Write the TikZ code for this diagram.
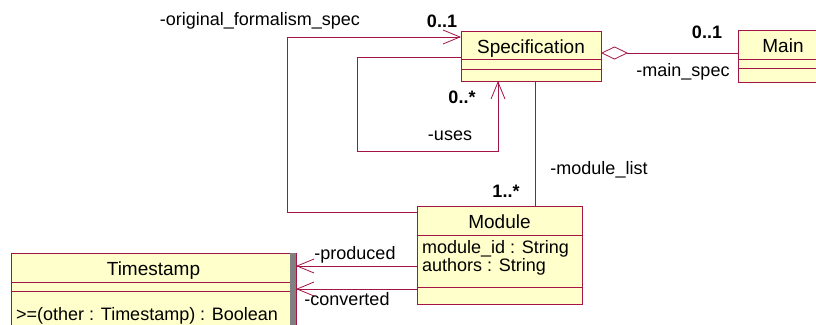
\documentclass[tikz,border=0pt]{standalone}
\usepackage{fontspec}
\setmainfont{Liberation Sans}
\usetikzlibrary{arrows.meta,positioning,calc}
\definecolor{umlred}{RGB}{165,20,70}
\definecolor{umlfill}{RGB}{255,255,204}
\tikzstyle{cname} = [draw=umlred, fill=umlfill, line width=0.8pt, inner sep=0pt, outer sep=0pt, text centered, text height=16.6pt, text depth=0pt, font=\fontsize{19}{19}\selectfont]
\tikzstyle{ccomp} = [draw=umlred, fill=umlfill, line width=0.8pt, inner sep=0pt, outer sep=0pt]
\tikzstyle{nav} = [-{Straight Barb[length=17pt,width=14pt]}, draw=umlred, line width=0.8pt]
\tikzstyle{link} = [draw=umlred, line width=0.8pt]
\tikzstyle{aggr} = [{Diamond[open,length=27pt,width=13pt]}-, draw=umlred, line width=0.8pt]
\tikzstyle{mult} = [font=\fontsize{18}{18}\selectfont\bfseries]
\tikzstyle{role} = [font=\fontsize{18}{18}\selectfont]

\begin{document}
\begin{tikzpicture}[x=1pt, y=-1pt, inner sep=0pt, font=\fontsize{18}{18}\selectfont]
    \clip (0,0) rectangle (816,324);

    % specification
    \node[cname, minimum width=140pt, minimum height=28pt] (spec) at (531,45) {Specification};
      \node[ccomp, minimum width=140pt, minimum height=10pt, below=0pt of spec] (specattr) {};
      \node[ccomp, minimum width=140pt, minimum height=12pt, below=0pt of specattr] (specops) {};

    % main
    \node[cname, minimum width=90pt, minimum height=29pt] (main) at (783,44.5) {Main};
      \node[ccomp, minimum width=90pt, minimum height=9pt, below=0pt of main] (mainattr) {};
      \node[ccomp, minimum width=90pt, minimum height=14pt, below=0pt of mainattr] (mainops) {};

    % module
    \node[cname, minimum width=165pt, minimum height=29pt] (mod) at (499.5,220.5) {Module};
      \node[ccomp, minimum width=165pt, minimum height=52pt, below=0pt of mod] (modattr) {};
      \node[ccomp, minimum width=165pt, minimum height=17pt, below=0pt of modattr] (modops) {};
      \node[anchor=north west, align=left] (modtxt) at ([xshift=5pt,yshift=-5pt]modattr.north west) {module\_id : String\\authors : String};

    % timestamp
    \node[cname, minimum width=285pt, minimum height=29pt] (ts) at (153.5,267.5) {Timestamp};
      \node[ccomp, minimum width=285pt, minimum height=9pt, below=0pt of ts] (tsattr) {};
      \node[ccomp, minimum width=285pt, minimum height=44pt, below=0pt of tsattr] (tsops) {};
      \node[anchor=base west] (tstxt) at ([xshift=5pt,yshift=-29pt]tsops.north west) {>=(other : Timestamp) : Boolean};
      \fill[black!50] ([xshift=-6pt]ts.north east) rectangle (tsops.south east);

    % associations
    \coordinate (origturn) at (287,37);
    \coordinate (usesturn) at (357,151);
    \draw[nav] ([yshift=-6pt]mod.north west) -| (origturn) -- ([yshift=-6pt]spec.north west);
    \draw[nav] ([yshift=2pt]spec.south west) -| (usesturn) -| ([xshift=-33pt]specops.south);
    \draw[link] ([xshift=4pt]specops.south) -- ([xshift=4pt]specops.south |- mod.north);
    \draw[aggr] ([yshift=6pt]spec.south east) -- ([yshift=6pt]spec.south east -| main.west);
    \draw[nav] ([yshift=-5pt]modattr.west) -- ([yshift=-5pt]modattr.west -| ts.east);
    \draw[nav] ([yshift=-2pt]modops.north west) -- ([yshift=-2pt]modops.north west -| ts.east);

    % role names and multiplicities
    \node[role] (origlbl) at (260,21) {-original\_formalism\_spec};
    \node[mult] (origmult) at (442,21) {0..1};
    \node[mult] (mainmult) at (707,32) {0..1};
    \node[role] (mainlbl) at (683,72) {-main\_spec};
    \node[mult] (usesmult) at (462,97) {0..*};
    \node[role] (useslbl) at (450,136) {-uses};
    \node[role] (modlbl) at (599,170) {-module\_list};
    \node[mult] (modmult) at (506,191) {1..*};
    \node[role] (prodlbl) at (355,255) {-produced};
    \node[role] (convlbl) at (347,299) {-converted};
\end{tikzpicture}
\end{document}
